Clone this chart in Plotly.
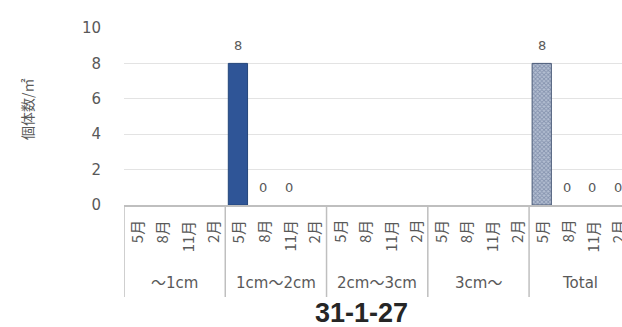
import plotly.graph_objects as go

# Survey months and size classes
months = ["5月", "8月", "11月", "2月"]
size_classes = ["～1cm", "1cm～2cm", "2cm～3cm", "3cm～", "Total"]

# Individuals per square metre; None = no label/bar shown
by_size = {
    "～1cm":    [None, None, None, None],
    "1cm～2cm": [8, 0, 0, None],
    "2cm～3cm": [None, None, None, None],
    "3cm～":    [None, None, None, None],
}
total = [8, 0, 0, 0]

y_title = "個体数/㎡"
chart_title = "31-1-27"
y_ticks = [0, 2, 4, 6, 8, 10]

n_m = len(months)
n_cat = n_m * len(size_classes)
idx = list(range(n_cat))

size_vals = []
for g in size_classes[:-1]:
    size_vals += by_size[g]
size_vals += [None] * n_m
total_vals = [None] * (n_cat - n_m) + total

CJK = "Noto Sans CJK JP, sans-serif"
GREY = "#595959"


def edge_widths(vals, w):
    return [w if v else 0 for v in vals]


fig = go.Figure()
fig.add_trace(go.Bar(
    x=idx, y=size_vals, width=0.76,
    marker=dict(color="#2F5597",
                line=dict(color="#24467A", width=edge_widths(size_vals, 1))),
    hoverinfo="skip",
))
fig.add_trace(go.Bar(
    x=idx, y=total_vals, width=0.76,
    marker=dict(color="#96A4BE",
                line=dict(color="#4A5A78", width=edge_widths(total_vals, 1)),
                pattern=dict(shape="x", size=3, solidity=0.5,
                             fgcolor="#56668A", bgcolor="#B4BFD2")),
    hoverinfo="skip",
))

annotations = []
# value labels above bars
for series in (size_vals, total_vals):
    for i, v in zip(idx, series):
        if v is None:
            continue
        annotations.append(dict(x=i, y=v, xref="x", yref="y", text=str(v),
                                showarrow=False, yanchor="middle", yshift=18,
                                font=dict(family="DejaVu Sans, sans-serif",
                                          size=13, color=GREY)))

plot_h = 177.0
plot_w = 498.0
# month labels (rotated) under each bar slot
for i in idx:
    annotations.append(dict(x=i, y=0, xref="x", yref="paper",
                            text=months[i % n_m], textangle=-90,
                            showarrow=False, yanchor="top", yshift=-13,
                            font=dict(family=CJK, size=15, color=GREY)))
# size class labels
for gi, g in enumerate(size_classes):
    annotations.append(dict(x=gi * n_m + (n_m - 1) / 2, y=0, xref="x", yref="paper",
                            text=g, showarrow=False, yanchor="middle", yshift=-78,
                            font=dict(family="DejaVu Sans, " + CJK, size=15, color=GREY)))
# axis title and chart title
annotations.append(dict(x=(27 - 124) / plot_w, y=(205 - 109) / plot_h,
                        xref="paper", yref="paper", xanchor="center", yanchor="middle",
                        text=y_title, textangle=-90, showarrow=False,
                        font=dict(family=CJK, size=14, color=GREY)))
annotations.append(dict(x=(361 - 124) / plot_w, y=(205 - 313) / plot_h,
                        xref="paper", yref="paper", xanchor="center", yanchor="middle",
                        text="<b>" + chart_title + "</b>", showarrow=False,
                        font=dict(family="Liberation Sans, Arial, sans-serif",
                                  size=27, color="#262626")))

# group divider lines below the axis
shapes = []
for gi in range(len(size_classes)):
    xb = gi * n_m - 0.5
    shapes.append(dict(type="line", xref="x", yref="paper", x0=xb, x1=xb,
                       y0=0, y1=-92 / plot_h, line=dict(color="#BFBFBF", width=1.5)))

fig.update_layout(
    width=622, height=327,
    margin=dict(l=124, r=0, t=28, b=122),
    paper_bgcolor="white", plot_bgcolor="white",
    barmode="overlay", showlegend=False,
    annotations=annotations, shapes=shapes,
    xaxis=dict(range=[-0.5, 19.17], showticklabels=False, showgrid=False,
               zeroline=False, showline=True, linecolor="#BFBFBF", linewidth=1.5,
               fixedrange=True),
    yaxis=dict(range=[0, 10], tickvals=y_ticks, showgrid=True, gridcolor="#E3E3E3",
               zeroline=False, showline=False, ticklabelstandoff=22,
               tickfont=dict(family="DejaVu Sans, sans-serif", size=15, color=GREY),
               fixedrange=True),
)

fig.write_html("out.html")
